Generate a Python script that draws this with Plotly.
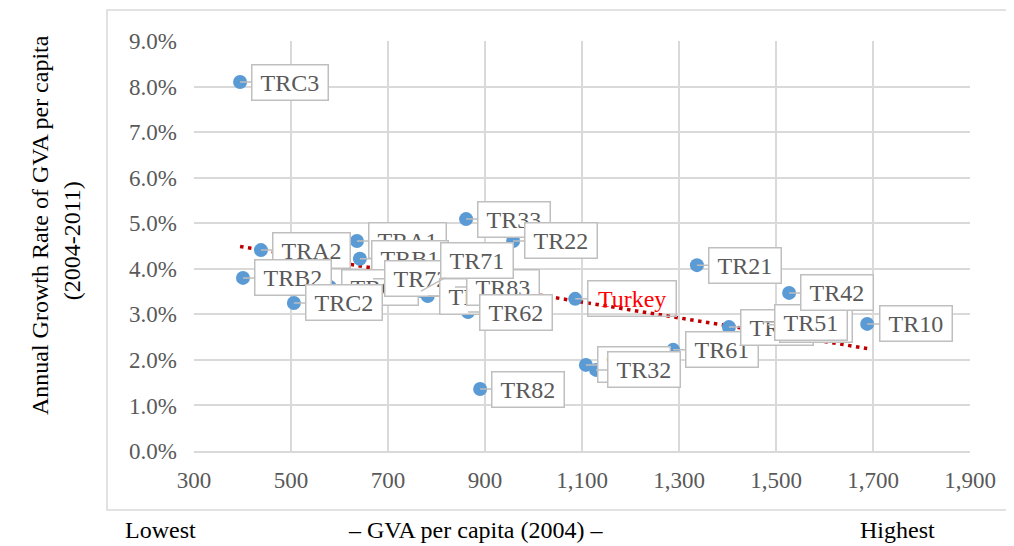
import numpy as np
import plotly.graph_objects as go

# ---- data ----
regions = ["TRC3", "TRA2", "TRB2", "TRC2", "TRA1", "TRB1", "TRC1", "TR72", "TR71", "TR90",
           "TR83", "TR62", "TR33", "TR22", "TR82", "TR63", "TR32", "TR21", "TR61", "TR41",
           "TR31", "TR51", "TR42", "TR10"]
gva_2004 = [395, 438, 401, 506, 636, 642, 580, 669, 768, 782,
            838, 865, 861, 958, 890, 1108, 1129, 1337, 1288, 1403,
            1483, 1473, 1527, 1688]
growth = [0.0810, 0.0441, 0.0380, 0.0325, 0.0461, 0.0422, 0.0360, 0.0378, 0.0351, 0.0340,
          0.0360, 0.0305, 0.0509, 0.0461, 0.0136, 0.0189, 0.0178, 0.0408, 0.0222, 0.0272,
          0.0277, 0.0283, 0.0347, 0.0279]
country_label = "Turkey"
country_gva = 1086
country_growth = 0.0334

x_ticks = [300, 500, 700, 900, 1100, 1300, 1500, 1700, 1900]
y_ticks = [0.0, 0.01, 0.02, 0.03, 0.04, 0.05, 0.06, 0.07, 0.08, 0.09]

# ---- styling ----
SERIF = "Liberation Serif"
BLUE = "#5b9bd5"
GRID = "#d9d9d9"
LABEL_GREY = "#595959"

# label offsets (pixels, box centre relative to point) for labels moved in the original
special_offsets = {"TR71": (56, -31)}
# drawing order of the callouts (later on top)
label_order = ["TRC3", "TR33", "TR22", "TRA1", "TRB1", "TRA2", "TRB2", "TRC1", "TRC2",
               "TR72", "TR90", "TR83", "TR71", "TR62", "TR82", "TR63", "TR32", "TR21", "TR61",
               "TR41", "TR31", "TR51", "TR42", "TR10"]

char_w = {"T": .611, "R": .667, "C": .667, "A": .722, "B": .667, "u": .5, "r": .333,
          "k": .5, "e": .444, "y": .5}
FS = 24


def text_width(s):
    return sum(char_w.get(c, 0.5) for c in s) * FS


fig = go.Figure()

# trend line (least squares over regions)
coef = np.polyfit(np.array(gva_2004, float), np.array(growth, float), 1)
tx = np.array([min(gva_2004), max(gva_2004)], float)
fig.add_trace(go.Scatter(x=tx, y=np.polyval(coef, tx), mode="lines",
                         line=dict(color="#c00000", width=3.5, dash="3.5px,4.5px"),
                         hoverinfo="skip", showlegend=False))

fig.add_trace(go.Scatter(x=gva_2004 + [country_gva], y=growth + [country_growth],
                         mode="markers", marker=dict(color=BLUE, size=14),
                         text=regions + [country_label], showlegend=False))

annotations = []
idx = {r: i for i, r in enumerate(regions)}
for r in label_order:
    i = idx[r]
    w = text_width(r) + 12
    ax, ay = special_offsets.get(r, (15 + w / 2, 0))
    annotations.append(dict(x=gva_2004[i], y=growth[i], text=r, showarrow=True,
                            ax=ax, ay=ay, arrowhead=0, arrowwidth=1.5, arrowcolor="#bfbfbf",
                            font=dict(family=SERIF, size=FS, color=LABEL_GREY),
                            bgcolor="white", bordercolor="#bfbfbf", borderwidth=1.5,
                            borderpad=2, width=w, height=30))
w = text_width(country_label) + 14
annotations.append(dict(x=country_gva, y=country_growth, text=country_label, showarrow=True,
                        ax=15 + w / 2, ay=0, arrowhead=0, arrowwidth=1.5, arrowcolor="#bfbfbf",
                        font=dict(family=SERIF, size=FS, color="#ff0000"),
                        bgcolor="rgba(255,255,255,0)", bordercolor="#bfbfbf", borderwidth=1.5,
                        borderpad=2, width=w, height=30))

# axis titles
annotations += [
    dict(xref="paper", yref="paper", x=-0.1985, y=0.551, text="Annual Growth Rate of GVA per capita",
         textangle=-90, showarrow=False, font=dict(family=SERIF, size=24, color="black"),
         xanchor="center", yanchor="middle"),
    dict(xref="paper", yref="paper", x=-0.157, y=0.512, text="(2004-2011)",
         textangle=-90, showarrow=False, font=dict(family=SERIF, size=24, color="black"),
         xanchor="center", yanchor="middle"),
    dict(xref="paper", yref="paper", x=-0.0438, y=-0.1927, text="Lowest", showarrow=False,
         font=dict(family=SERIF, size=24, color="black"), xanchor="center", yanchor="middle",
         borderpad=0),
    dict(xref="paper", yref="paper", x=0.3634, y=-0.1927, text="– GVA per capita (2004) –",
         showarrow=False, font=dict(family=SERIF, size=24, color="black"),
         xanchor="center", yanchor="middle", borderpad=0),
    dict(xref="paper", yref="paper", x=0.906, y=-0.1927, text="Highest", showarrow=False,
         font=dict(family=SERIF, size=24, color="black"), xanchor="center", yanchor="middle",
         borderpad=0),
]

# the page body adds an 8px offset, so the figure is 8px smaller and margins shifted
fig.update_layout(
    width=1006, height=538,
    margin=dict(l=186, r=44, t=33, b=95),
    paper_bgcolor="white", plot_bgcolor="white",
    annotations=annotations,
    shapes=[dict(type="rect", xref="paper", yref="paper", x0=-0.1121, x1=1.0503,
                 y0=-0.1439, y1=1.0756, line=dict(color=GRID, width=1.5), layer="below")],
    xaxis=dict(range=[300, 1900], tickvals=x_ticks, tickformat=",d", showgrid=True,
               gridcolor=GRID, gridwidth=1.5, zeroline=False, showline=True, linecolor=GRID,
               linewidth=1.5, tickfont=dict(family=SERIF, size=23, color=LABEL_GREY),
               ticks="", ticklabelstandoff=8),
    yaxis=dict(range=[0, 0.09], tickvals=y_ticks, tickformat=".1%", showgrid=True,
               gridcolor=GRID, gridwidth=1.5, zeroline=False, showline=False,
               tickfont=dict(family=SERIF, size=23, color=LABEL_GREY),
               ticks="", ticklabelstandoff=16),
)

fig.write_html("out.html")
